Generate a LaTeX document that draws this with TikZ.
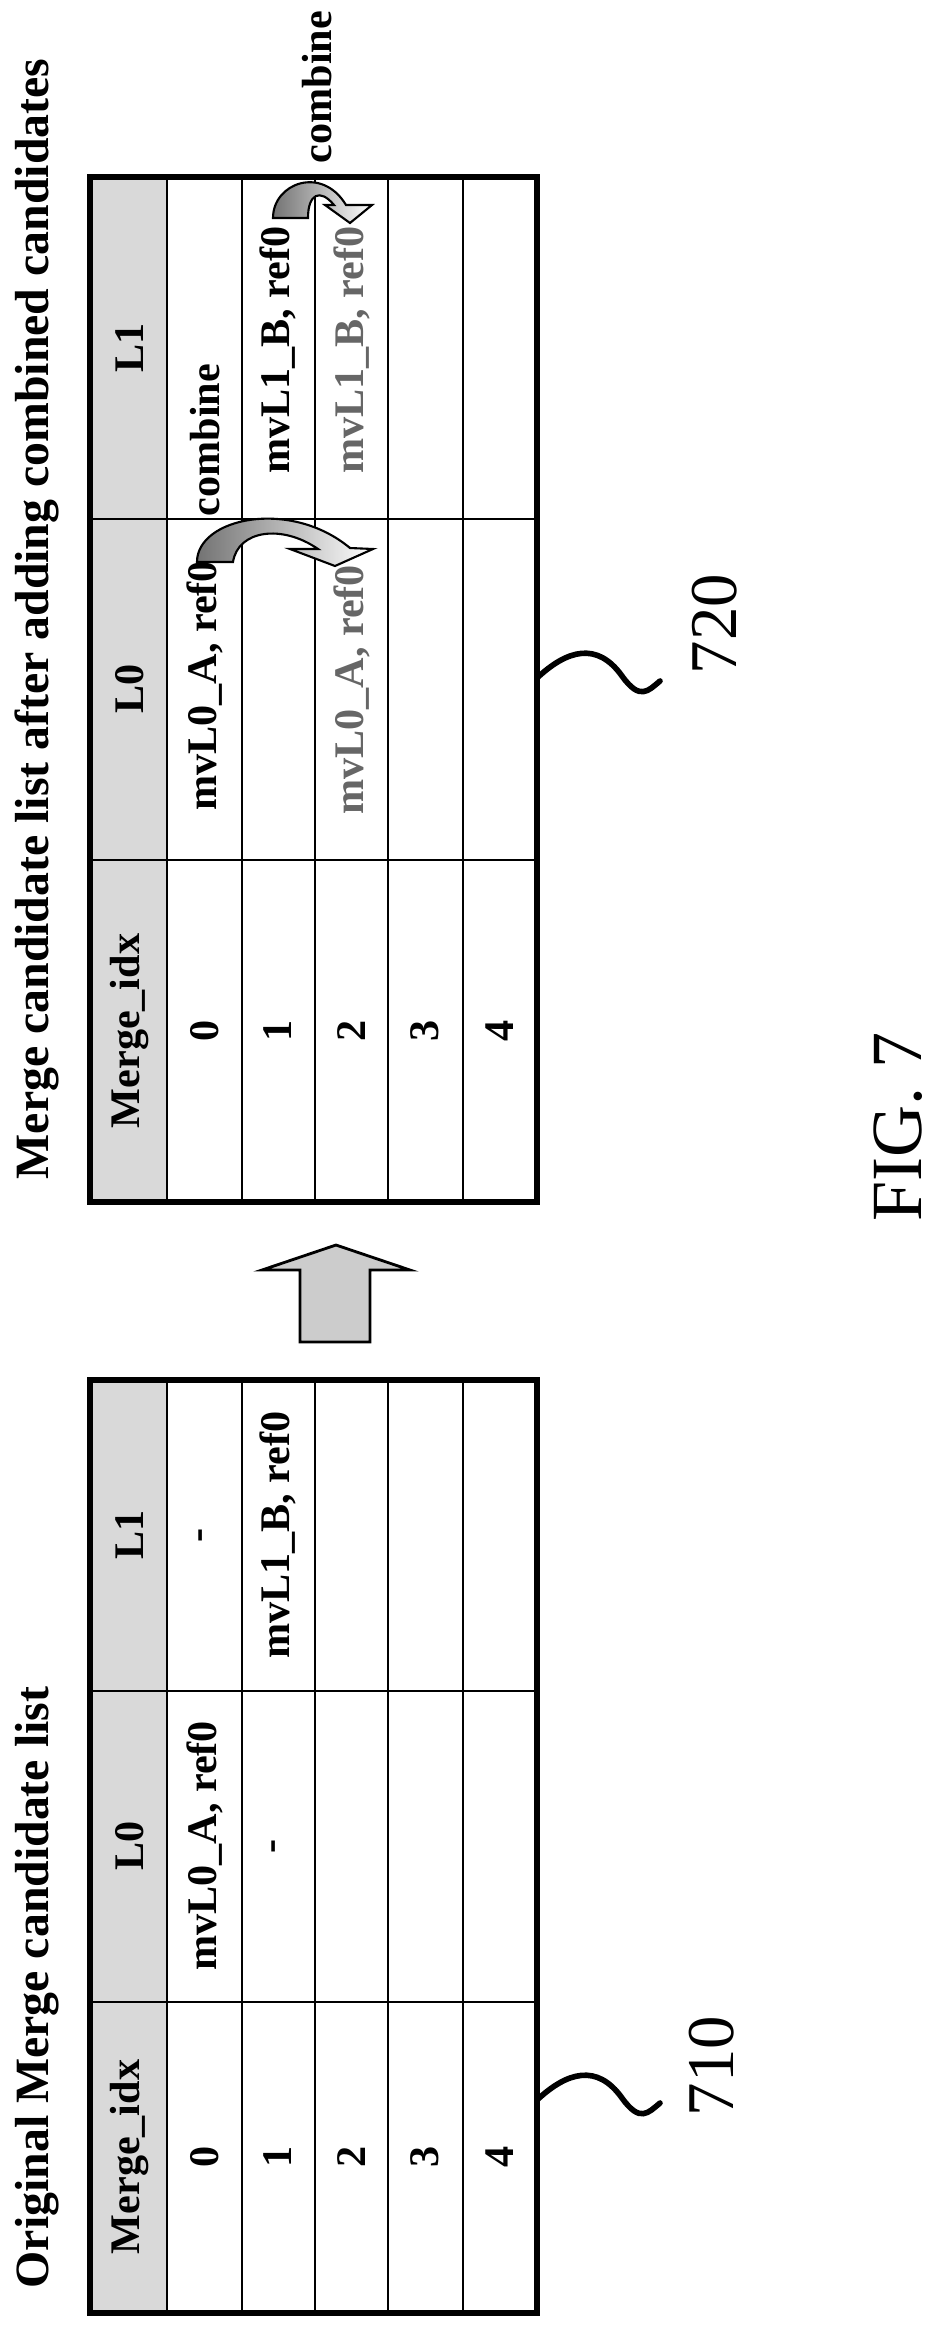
\documentclass[tikz,border=0pt]{standalone}
\usepackage{fontspec}
\setmainfont{Liberation Serif}
\usetikzlibrary{positioning}
\tikzstyle{txt} = [rotate=90, inner sep=0pt, font=\fontsize{12}{14}\selectfont\bfseries]
\tikzstyle{newtxt} = [txt, text=black!60]
\tikzstyle{title} = [rotate=90, inner sep=0pt, anchor=west, font=\fontsize{13.6}{16}\selectfont\bfseries]
\tikzstyle{refnum} = [rotate=90, inner sep=0pt, font=\fontsize{19}{22}\selectfont]
\tikzstyle{grid} = [line width=0.6pt]
\tikzstyle{frame} = [line width=1.5pt]
\tikzstyle{curl} = [line width=1.6pt, line cap=round]
\tikzstyle{combarrow} = [draw=black, line width=0.6pt, left color=black!55, right color=white]

\begin{document}
\begin{tikzpicture}[x=0.1mm, y=-0.1mm]
\useasboundingbox (0,0) rectangle (943,2336);

% the two tables (a: after combining, b: original)
\foreach \top/\h in {177/341.67, 1380/311}
{
\fill[black!15] (90,\top) rectangle (167,\top+3*\h);
\foreach \x in {167,242,315,388,463}
 \draw[grid] (\x,\top) -- (\x,\top+3*\h);
\foreach \k in {1,2}
 \draw[grid] (90,\top+\k*\h) -- (537,\top+\k*\h);
\draw[frame] (90,\top) rectangle (537,\top+3*\h);
}

% headers and indices
\node[txt] (aL1) at (130,348) {L1};
\node[txt] (aL0) at (130,689) {L0};
\node[txt] (aidx) at (130,1031) {Merge\_idx};
\node[txt] (bL1) at (130,1535) {L1};
\node[txt] (bL0) at (130,1846) {L0};
\node[txt] (bidx) at (130,2157) {Merge\_idx};
\foreach \i/\x in {0/205,1/278,2/352,3/425,4/500}
{
\node[txt] (a\i) at (\x,1031) {\i};
\node[txt] (b\i) at (\x,2157) {\i};
}

% original list
\node[txt] (b0L0) at (205,1846) {mvL0\_A, ref0};
\node[txt] (b0L1) at (205,1535) {-};
\node[txt] (b1L0) at (278,1846) {-};
\node[txt] (b1L1) at (278,1535) {mvL1\_B, ref0};

% list after adding combined candidates
\node[txt] (a0L0) at (205,686) {mvL0\_A, ref0};
\node[txt] (a0cmb) at (205,440) {combine};
\node[txt] (a1L1) at (278,350) {mvL1\_B, ref0};
\node[newtxt] (a2L0) at (352,690) {mvL0\_A, ref0};
\node[newtxt] (a2L1) at (352,350) {mvL1\_B, ref0};
\node[txt] (a1cmb) at (317,87) {combine};

% combine arrows
\path[combarrow] (197,562) .. controls (197,518) and (290,498) .. (350,548) -- (373,549)
 -- (335,566) -- (290,549) -- (318,549) .. controls (282,524) and (238,530) .. (233,562) -- cycle;
\path[combarrow] (273,218) .. controls (273,183) and (322,165) .. (346,205) -- (372,205)
 -- (350,223) -- (325,205) -- (334,205) .. controls (320,188) and (308,194) .. (308,218) -- cycle;

% block arrow between the tables
\filldraw[fill=black!20, line width=0.8pt] (336,1245) -- (410,1270) -- (370,1270) -- (370,1342)
 -- (300,1342) -- (300,1270) -- (262,1270) -- cycle;

% titles
\node[title] (ttlb) at (37,2289) {Original Merge candidate list};
\node[title] (ttla) at (37,1180) {Merge candidate list after adding combined candidates};

% reference numerals
\node[refnum] (n720) at (715,624) {720};
\node[refnum] (n710) at (712,2066) {710};
\coordinate (ca) at (537,678);
\coordinate (cb) at (537,2100);
\draw[curl] (ca) .. controls +(30,-28) and +(-25,-35) .. ++(85,-2) .. controls +(18,25) and +(-12,10) .. ++(38,5);
\draw[curl] (cb) .. controls +(30,-28) and +(-25,-35) .. ++(85,-2) .. controls +(18,25) and +(-12,10) .. ++(38,5);
\node[rotate=90, inner sep=0pt, font=\fontsize{20.5}{24}\selectfont] (fig) at (898,1127) {FIG. 7};
\end{tikzpicture}
\end{document}
